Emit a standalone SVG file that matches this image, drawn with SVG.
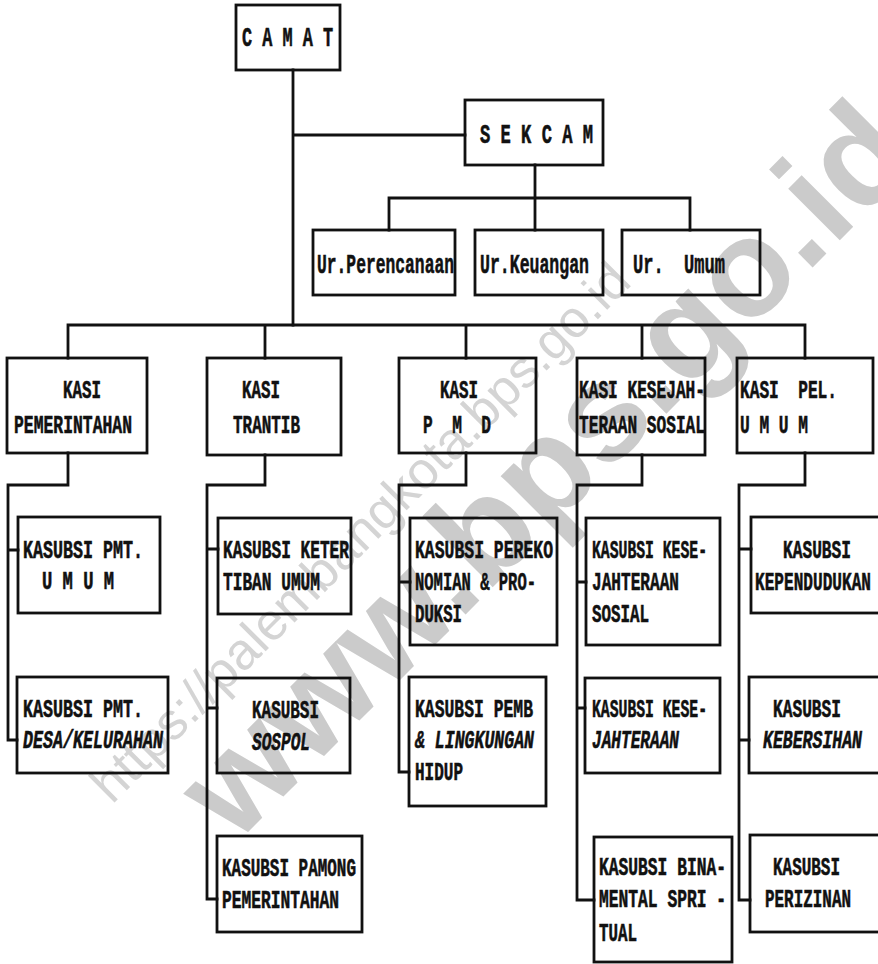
<svg xmlns="http://www.w3.org/2000/svg" width="878" height="964" viewBox="0 0 878 964" xml:space="preserve">
<style>
.b{fill:none;stroke:#111;stroke-width:2.8}
.c{fill:none;stroke:#111;stroke-width:2.8;stroke-linecap:square}
.t{font-family:"Liberation Mono","Courier New",monospace;font-weight:bold;font-size:26px;fill:#111;stroke:#111;stroke-width:0.6;white-space:pre}
.L{font-size:28px}
.i{font-style:italic}
.wm{font-family:"Liberation Sans",Arial,sans-serif;font-weight:bold;fill:#cbcbcb}
.wm2{font-family:"Liberation Sans",Arial,sans-serif;fill:#d4d4d4}
</style>
<rect width="878" height="964" fill="#fff"/>
<g id="watermark">
<text class="wm" font-size="138" x="235" y="845" transform="rotate(-45 235 845)">www.bps.go.id</text>
<text class="wm2" font-size="52" x="112" y="805" transform="rotate(-45 112 805)">https://palembangkota.bps.go.id</text>
</g>
<g id="connectors">
<path class="c" d="M293,70V325M293,135H465M535,165V198M389,198H690M389,198V230M535,198V230M690,198V230"/>
<path class="c" d="M68,325H805M68,325V358M265,325V358M466,325V358M642,325V358M805,325V358"/>
<path class="c" d="M68,453V485H8V740H17M8,550H18"/>
<path class="c" d="M265,455V485H207V899H217M207,549H218M207,708H217"/>
<path class="c" d="M466,453V485H399V772H409M399,582H410"/>
<path class="c" d="M642,455V485H577V900H594M577,582H586M577,708H585"/>
<path class="c" d="M805,453V485H739V900H750M739,549H751M739,740H749"/>
</g>
<g id="camat"><rect class="b" x="236" y="5" width="104" height="65"/><text class="t L" x="242" y="46" textLength="91" lengthAdjust="spacingAndGlyphs">C A M A T</text></g>
<g id="sekcam"><rect class="b" x="465" y="100" width="138" height="65"/><text class="t L" x="480" y="143" textLength="113" lengthAdjust="spacingAndGlyphs">S E K C A M</text></g>
<g id="ur-perencanaan"><rect class="b" x="313" y="230" width="142" height="65"/><text class="t L" x="317" y="273" textLength="137" lengthAdjust="spacingAndGlyphs">Ur.Perencanaan</text></g>
<g id="ur-keuangan"><rect class="b" x="475" y="230" width="128" height="65"/><text class="t L" x="480" y="273" textLength="109" lengthAdjust="spacingAndGlyphs">Ur.Keuangan</text></g>
<g id="ur-umum"><rect class="b" x="622" y="230" width="138" height="65"/><text class="t L" x="633" y="273" textLength="92" lengthAdjust="spacingAndGlyphs">Ur.  Umum</text></g>
<g id="kasi-pemerintahan"><rect class="b" x="7" y="358" width="140" height="95"/><text class="t" x="63" y="398" textLength="38" lengthAdjust="spacingAndGlyphs">KASI</text><text class="t" x="14" y="433" textLength="118" lengthAdjust="spacingAndGlyphs">PEMERINTAHAN</text></g>
<g id="kasi-trantib"><rect class="b" x="207" y="358" width="134" height="97"/><text class="t" x="242" y="398" textLength="38" lengthAdjust="spacingAndGlyphs">KASI</text><text class="t" x="233" y="433" textLength="67" lengthAdjust="spacingAndGlyphs">TRANTIB</text></g>
<g id="kasi-pmd"><rect class="b" x="399" y="358" width="137" height="95"/><text class="t" x="440" y="398" textLength="38" lengthAdjust="spacingAndGlyphs">KASI</text><text class="t" x="423" y="433" textLength="68" lengthAdjust="spacingAndGlyphs">P  M  D</text></g>
<g id="kasi-kesejahteraan"><rect class="b" x="577" y="358" width="128" height="97"/><text class="t" x="579" y="398" textLength="126" lengthAdjust="spacingAndGlyphs">KASI KESEJAH-</text><text class="t" x="579" y="433" textLength="126" lengthAdjust="spacingAndGlyphs">TERAAN SOSIAL</text></g>
<g id="kasi-pel-umum"><rect class="b" x="737" y="358" width="136" height="95"/><text class="t" x="740" y="398" textLength="97" lengthAdjust="spacingAndGlyphs">KASI  PEL.</text><text class="t" x="740" y="433" textLength="68" lengthAdjust="spacingAndGlyphs">U M U M</text></g>
<g id="kasubsi-pmt-umum"><rect class="b" x="18" y="517" width="142" height="96"/><text class="t" x="23" y="558" textLength="120" lengthAdjust="spacingAndGlyphs">KASUBSI PMT.</text><text class="t" x="42" y="589" textLength="72" lengthAdjust="spacingAndGlyphs">U M U M</text></g>
<g id="kasubsi-pmt-desa"><rect class="b" x="17" y="677" width="151" height="96"/><text class="t" x="23" y="717" textLength="120" lengthAdjust="spacingAndGlyphs">KASUBSI PMT.</text><text class="t i" x="23" y="748" textLength="140" lengthAdjust="spacingAndGlyphs">DESA/KELURAHAN</text></g>
<g id="kasubsi-ketertiban"><rect class="b" x="218" y="518" width="133" height="96"/><text class="t" x="223" y="558" textLength="126" lengthAdjust="spacingAndGlyphs">KASUBSI KETER</text><text class="t" x="223" y="590" textLength="97" lengthAdjust="spacingAndGlyphs">TIBAN UMUM</text></g>
<g id="kasubsi-sospol"><rect class="b" x="217" y="678" width="133" height="95"/><text class="t" x="252" y="718" textLength="67" lengthAdjust="spacingAndGlyphs">KASUBSI</text><text class="t i" x="252" y="750" textLength="58" lengthAdjust="spacingAndGlyphs">SOSPOL</text></g>
<g id="kasubsi-pamong"><rect class="b" x="217" y="836" width="145" height="96"/><text class="t" x="222" y="876" textLength="134" lengthAdjust="spacingAndGlyphs">KASUBSI PAMONG</text><text class="t" x="222" y="908" textLength="117" lengthAdjust="spacingAndGlyphs">PEMERINTAHAN</text></g>
<g id="kasubsi-perekonomian"><rect class="b" x="410" y="518" width="147" height="127"/><text class="t" x="415" y="558" textLength="138" lengthAdjust="spacingAndGlyphs">KASUBSI PEREKO</text><text class="t" x="415" y="590" textLength="121" lengthAdjust="spacingAndGlyphs">NOMIAN &amp; PRO-</text><text class="t" x="415" y="622" textLength="47" lengthAdjust="spacingAndGlyphs">DUKSI</text></g>
<g id="kasubsi-pemb-lingkungan"><rect class="b" x="409" y="677" width="137" height="129"/><text class="t" x="415" y="717" textLength="118" lengthAdjust="spacingAndGlyphs">KASUBSI PEMB</text><text class="t i" x="415" y="748" textLength="119" lengthAdjust="spacingAndGlyphs">&amp; LINGKUNGAN</text><text class="t" x="415" y="780" textLength="48" lengthAdjust="spacingAndGlyphs">HIDUP</text></g>
<g id="kasubsi-kesejahteraan-sosial"><rect class="b" x="586" y="518" width="134" height="127"/><text class="t" x="592" y="558" textLength="115" lengthAdjust="spacingAndGlyphs">KASUBSI KESE-</text><text class="t" x="592" y="590" textLength="87" lengthAdjust="spacingAndGlyphs">JAHTERAAN</text><text class="t" x="592" y="622" textLength="57" lengthAdjust="spacingAndGlyphs">SOSIAL</text></g>
<g id="kasubsi-kesejahteraan"><rect class="b" x="585" y="678" width="135" height="95"/><text class="t" x="592" y="717" textLength="115" lengthAdjust="spacingAndGlyphs">KASUBSI KESE-</text><text class="t i" x="592" y="748" textLength="87" lengthAdjust="spacingAndGlyphs">JAHTERAAN</text></g>
<g id="kasubsi-bina-mental"><rect class="b" x="594" y="837" width="138" height="125"/><text class="t" x="599" y="875" textLength="127" lengthAdjust="spacingAndGlyphs">KASUBSI BINA-</text><text class="t" x="599" y="907" textLength="127" lengthAdjust="spacingAndGlyphs">MENTAL SPRI -</text><text class="t" x="599" y="941" textLength="38" lengthAdjust="spacingAndGlyphs">TUAL</text></g>
<g id="kasubsi-kependudukan"><rect class="b" x="751" y="517" width="132" height="96"/><text class="t" x="783" y="558" textLength="68" lengthAdjust="spacingAndGlyphs">KASUBSI</text><text class="t" x="755" y="590" textLength="116" lengthAdjust="spacingAndGlyphs">KEPENDUDUKAN</text></g>
<g id="kasubsi-kebersihan"><rect class="b" x="749" y="677" width="134" height="96"/><text class="t" x="773" y="717" textLength="68" lengthAdjust="spacingAndGlyphs">KASUBSI</text><text class="t i" x="763" y="748" textLength="99" lengthAdjust="spacingAndGlyphs">KEBERSIHAN</text></g>
<g id="kasubsi-perizinan"><rect class="b" x="750" y="835" width="133" height="97"/><text class="t" x="773" y="875" textLength="67" lengthAdjust="spacingAndGlyphs">KASUBSI</text><text class="t" x="765" y="907" textLength="86" lengthAdjust="spacingAndGlyphs">PERIZINAN</text></g>
</svg>
